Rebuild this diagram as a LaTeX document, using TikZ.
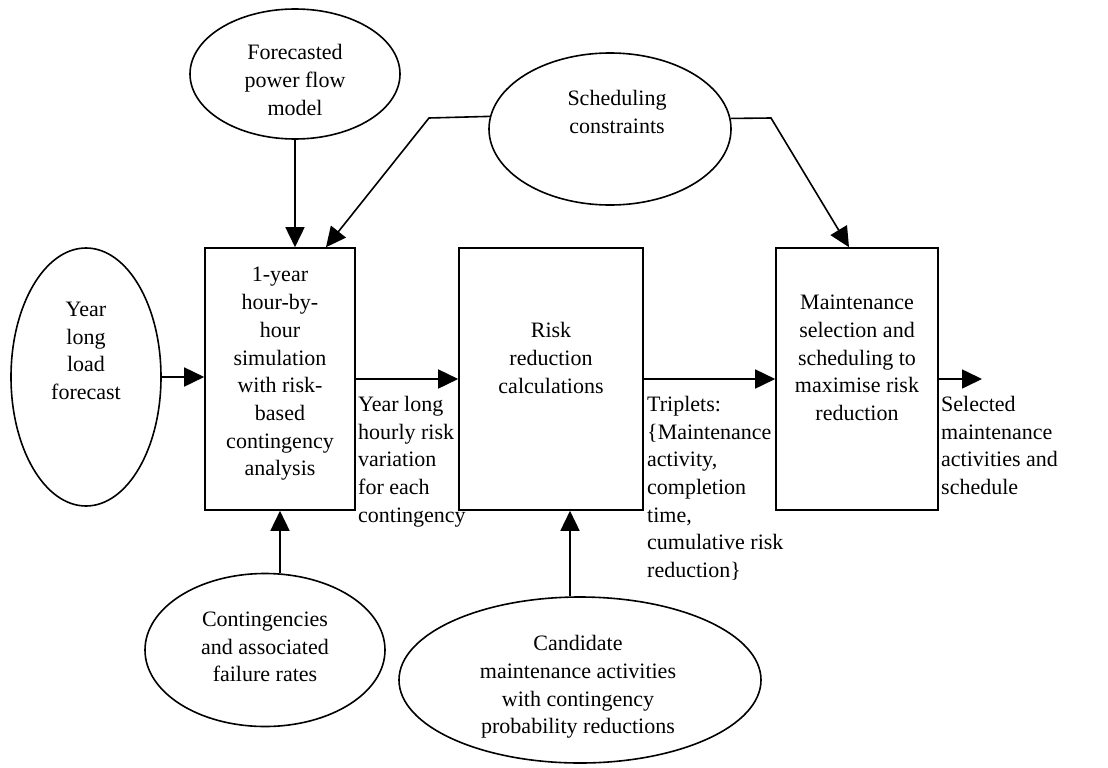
\documentclass[tikz,border=0pt]{standalone}
\usepackage{fontspec}
\setmainfont{Liberation Serif}
\usetikzlibrary{shapes.geometric,arrows.meta}
\begin{document}
\begin{tikzpicture}[x=1pt,y=-1pt,
  every node/.style={font=\fontsize{22}{27.7}\selectfont},
  shapeline/.style={draw=black,line width=1.6pt,inner sep=0pt},
  proc/.style={shapeline,rectangle},
  src/.style={shapeline,ellipse},
  txt/.style={inner sep=0pt,align=center},
  lbl/.style={inner sep=0pt,align=left,anchor=north west},
  arr/.style={line width=1.6pt,-{Triangle[length=20pt,width=19pt]}}]
\useasboundingbox (0,0) rectangle (1108,768);

% process boxes
\node[proc,minimum width=150pt,minimum height=262pt] (box1) at (280,379) {};
\node[proc,minimum width=184pt,minimum height=262pt] (box2) at (551,379) {};
\node[proc,minimum width=162pt,minimum height=262pt] (box3) at (857,379) {};

% input ellipses
\node[src,minimum width=150pt,minimum height=258pt] (year) at (86,377) {};
\node[src,minimum width=210pt,minimum height=130pt] (fore) at (295,74) {};
\node[src,minimum width=242pt,minimum height=152pt] (sched) at (610,129) {};
\node[src,minimum width=240pt,minimum height=153pt] (cont) at (265,650) {};
\node[src,minimum width=362pt,minimum height=166pt] (cand) at (580,680) {};

% texts
\node[txt] (tyear) at (86,351) {Year\\long\\load\\forecast};
\node[txt] (tfore) at (295,80) {Forecasted\\power flow\\model};
\node[txt] (tsched) at (617,112) {Scheduling\\constraints};
\node[txt] (tcont) at (265,647) {Contingencies\\and associated\\failure rates};
\node[txt] (tcand) at (578,687) {Candidate\\maintenance activities\\with contingency\\probability reductions};
\node[txt] (tbox1) at (280,374) {1-year\\hour-by-\\hour\\simulation\\with risk-\\based\\contingency\\analysis};
\node[txt] (tbox2) at (551,358) {Risk\\reduction\\calculations};
\node[txt] (tbox3) at (857,358) {Maintenance\\selection and\\scheduling to\\maximise risk\\reduction};

% flow labels
\node[lbl] (l1) at (358,396) {Year long\\hourly risk\\variation\\for each\\contingency};
\node[lbl] (l2) at (647,396) {Triplets:\\\{Maintenance\\activity,\\completion\\time,\\cumulative risk\\reduction\}};
\node[lbl] (l3) at (941,396) {Selected\\maintenance\\activities and\\schedule};

% connectors
\coordinate (bendL) at (429,118);
\coordinate (bendR) at (771,118);
\coordinate (out) at (982,379);

\draw[arr] (year.east) -- (year.east -| box1.west);
\draw[arr] (box1.east) -- (box2.west);
\draw[arr] (box2.east) -- (box3.west);
\draw[arr] (box3.east) -- (out);

\draw[arr] (fore.south) -- (fore.south |- box1.north);
\draw[arr] (sched.174.7) -- (bendL) -- ([xshift=46pt]box1.north);
\draw[arr] (sched.5.3) -- (bendR) -- ([xshift=-8pt]box3.north);
\draw[arr] (cont.north -| box1.south) -- (box1.south);
\draw[arr] ([xshift=-10pt]cand.north) -- ([xshift=-10pt]cand.north |- box2.south);
\end{tikzpicture}
\end{document}
